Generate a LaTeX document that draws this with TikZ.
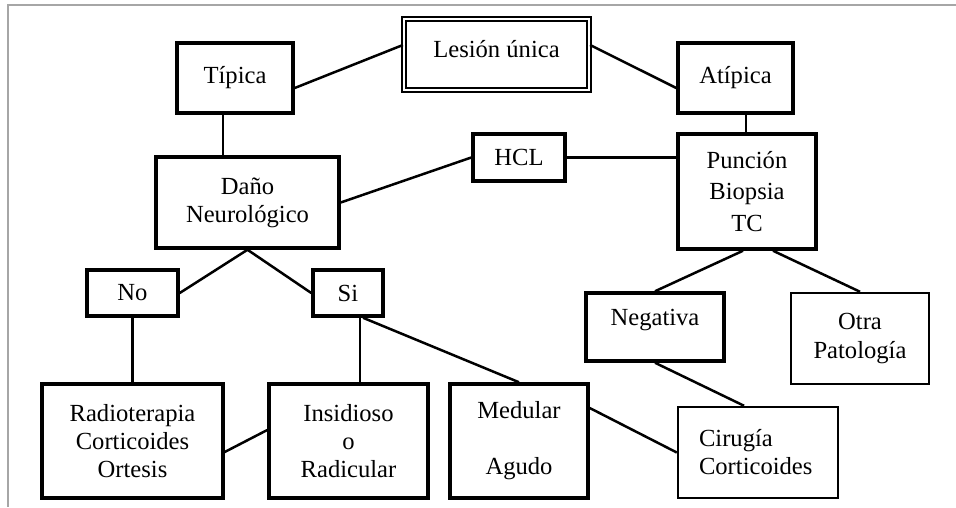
\documentclass[tikz,border=0pt]{standalone}
\usepackage{fontspec}
\setmainfont{Liberation Serif}
\usetikzlibrary{calc}

\begin{document}
\begin{tikzpicture}[x=0.02cm,y=-0.02cm,
caja/.style={rectangle, draw=black, line width=0.07cm, align=center, inner sep=0pt, font=\fontsize{14}{16}\selectfont},
cajafina/.style={caja, line width=0.05cm},
raiz/.style={caja, line width=0.045cm, double, double distance=0.025cm},
enlace/.style={line width=0.05cm}]
\useasboundingbox (0,0) rectangle (956,507);
\draw[gray!70, line width=0.05cm] (956,5) -- (8,5) -- (8,507);

\draw (496.5,54.5) node[raiz, minimum width=3.7cm, minimum height=1.42cm] (LU) {Lesión única\\[-14pt]\strut};
\draw (235,78) node[caja, minimum width=2.32cm, minimum height=1.4cm] (TI) {Típica};
\draw (735.5,78) node[caja, minimum width=2.3cm, minimum height=1.4cm] (AT) {Atípica};
\draw (247.5,202.5) node[caja, minimum width=3.66cm, minimum height=1.82cm] (DN) {Daño\\Neurológico};
\draw (519,157.5) node[caja, minimum width=1.84cm, minimum height=0.94cm] (HC) {HCL};
\draw (747,191.5) node[caja, minimum width=2.76cm, minimum height=2.3cm] (PB) {Punción\\[2pt]Biopsia\\[2pt]TC};
\draw (132.5,293) node[caja, minimum width=1.82cm, minimum height=0.92cm] (NO) {No};
\draw (348,293) node[caja, minimum width=1.4cm, minimum height=0.92cm] (SI) {Si};
\draw (132.5,441) node[caja, minimum width=3.62cm, minimum height=2.28cm] (RA) {Radioterapia\\Corticoides\\Ortesis};
\draw (348.5,441) node[caja, minimum width=3.18cm, minimum height=2.28cm] (IR) {Insidioso\\o\\Radicular};
\draw (519,441) node[caja, minimum width=2.76cm, minimum height=2.28cm] (MA) {Medular\\[16pt]Agudo};
\draw (655,327) node[caja, minimum width=2.76cm, minimum height=1.36cm] (NE) {Negativa\\[-10pt]\strut};
\draw (860,338.5) node[cajafina, minimum width=2.76cm, minimum height=1.82cm] (OP) {Otra\\Patología};
\draw (758,452.5) node[cajafina, align=left, text width=2.36cm, inner xsep=0.42cm, minimum height=1.82cm] (CC) {Cirugía\\Corticoides};

\draw[enlace] ([yshift=0.19cm]LU.west) -- ([yshift=-0.2cm]TI.east);
\draw[enlace] ([yshift=0.19cm]LU.east) -- ([yshift=-0.2cm]AT.west);
\draw[enlace] ([xshift=-0.24cm]TI.south) -- ([xshift=-0.24cm]TI.south |- DN.north);
\draw[enlace] ([xshift=0.21cm]AT.south) -- ([xshift=0.21cm]AT.south |- PB.north);
\draw[enlace] (DN.east) -- (HC.west);
\draw[enlace] (HC.east) -- (HC.east -| PB.west);
\draw[enlace] (DN.south) -- (NO.east);
\draw[enlace] (DN.south) -- (SI.west);
\draw[enlace] (NO.south) -- (RA.north);
\draw[enlace] ([xshift=0.24cm]SI.south) -- ([xshift=0.24cm]SI.south |- IR.north);
\draw[enlace] ([xshift=0.3cm]SI.south) -- (MA.north);
\draw[enlace] ([yshift=-0.22cm]RA.east) -- ([yshift=0.22cm]IR.west);
\draw[enlace] ([yshift=0.66cm]MA.east) -- (CC.west);
\draw[enlace] ([xshift=-0.08cm]PB.south) -- (NE.north);
\draw[enlace] ([xshift=0.52cm]PB.south) -- (OP.north);
\draw[enlace] (NE.south) -- ([xshift=-0.28cm]CC.north);
\end{tikzpicture}
\end{document}
